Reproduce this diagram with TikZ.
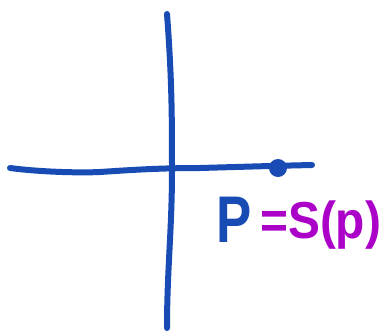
\documentclass[tikz,border=0pt]{standalone}
\usepackage{fontspec}
\setmainfont{Liberation Sans}
\definecolor{inkblue}{RGB}{25,75,180}
\definecolor{inkpurple}{RGB}{170,0,200}
\begin{document}
\begin{tikzpicture}[x=1pt,y=-1pt,
  axis/.style={draw=inkblue,line width=6pt,line cap=round,line join=round}]
\useasboundingbox (0,0) rectangle (381,335);
\coordinate (vt) at (167,14);
\coordinate (vb) at (167,328);
\coordinate (hl) at (10,168);
\coordinate (hr) at (312,165);
\draw[axis] (vt) .. controls (172,80) and (172,120) .. (172,170) .. controls (172,230) and (167,270) .. (vb);
\draw[axis] (hl) .. controls (40,172) and (80,173) .. (100,172) .. controls (130,170) and (160,168) .. (200,168) -- (270,166) -- (hr);
\node[circle,fill=inkblue,minimum size=18pt,inner sep=0pt] (pt) at (278,168) {};
\node[anchor=base west,text=inkblue,font=\bfseries\fontsize{66}{66}\selectfont,inner sep=0pt,xscale=0.8] (lp) at (216,242) {P};
\node[anchor=base west,text=inkpurple,font=\bfseries\fontsize{52}{52}\selectfont,inner sep=0pt,xscale=0.92] (ls) at (260,238) {=S(p)};
\end{tikzpicture}
\end{document}
